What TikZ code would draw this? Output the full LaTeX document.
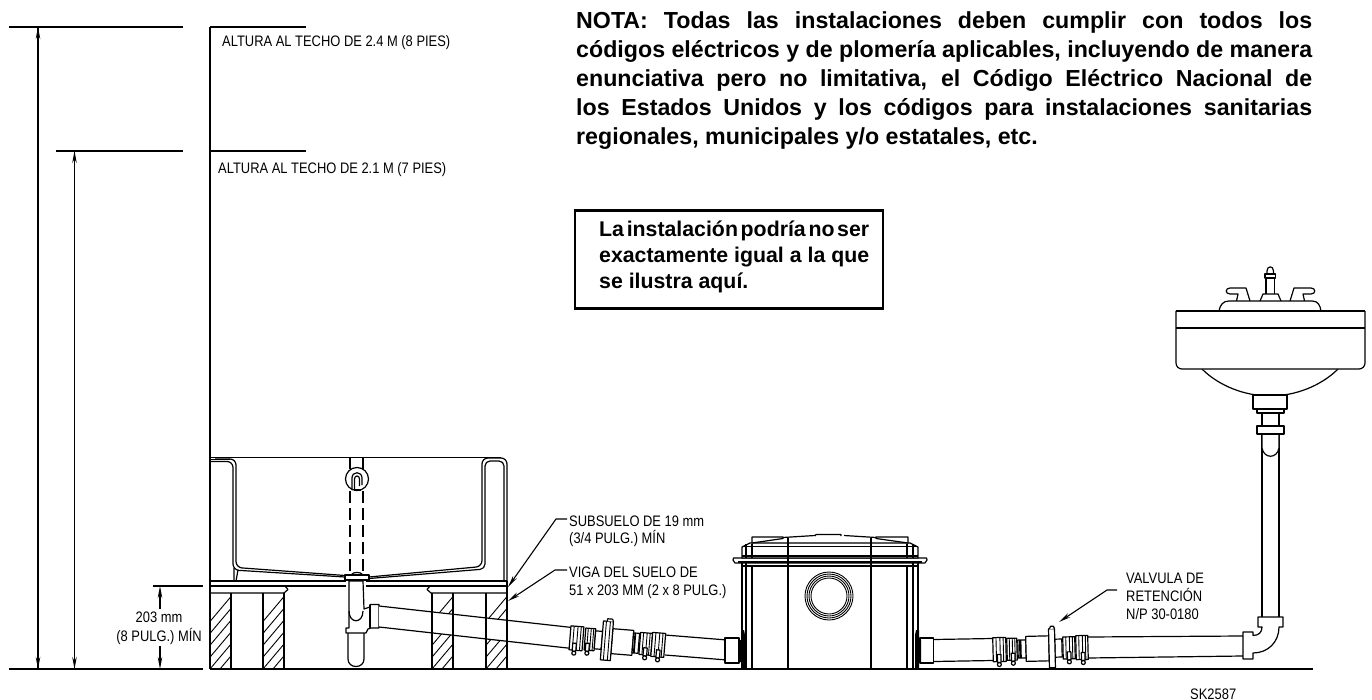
\documentclass[tikz,border=0pt]{standalone}
\usepackage{fontspec}
\setmainfont{Liberation Sans}
\newfontfamily\labfont[FakeStretch=0.85]{Liberation Sans}
\usetikzlibrary{arrows.meta}
\tikzset{
  ln/.style={draw=black,line width=1.2pt,line join=round},
  lnw/.style={ln,fill=white},
  hv/.style={draw=black,line width=1.6pt},
  tn/.style={draw=black,line width=0.9pt},
  dimarrow/.style={draw=black,line width=1.1pt,-{Stealth[length=12pt,width=4.5pt]}},
  label/.style={anchor=base west,inner sep=0pt,font=\labfont\fontsize{15.2}{18}\selectfont},
  notetext/.style={anchor=base west,inner sep=0pt,font=\bfseries\fontsize{23.2}{29}\selectfont},
  warntext/.style={anchor=base west,inner sep=0pt,font=\bfseries\fontsize{21.3}{26}\selectfont},
}
\newcommand{\hatchbox}[4]{%
  \begin{scope}
    \clip (#1,#3) rectangle (#2,#4);
    \foreach \k in {0,10,...,120}{\draw[tn] (#1-40+\k,#4) -- (#1-40+\k+64,#4-76);}
  \end{scope}
  \draw[ln] (#1,#3) -- (#1,#4) (#2,#3) -- (#2,#4);}
% a hose clamp in the local frame of a fitting: s1, s2, half height, screw position
\newcommand{\clampbox}[4]{%
  \draw[lnw] (#1,-#3) rectangle (#2,#3);
  \draw[tn] ({#1+0.25*(#2-#1)},-#3) -- ({#1+0.25*(#2-#1)},#3)
            ({#1+0.55*(#2-#1)},-#3) -- ({#1+0.55*(#2-#1)},#3)
            ({#1+0.8*(#2-#1)},-#3) -- ({#1+0.8*(#2-#1)},#3);
  \draw[lnw] (#4-1.8,#3-7) rectangle (#4+1.8,#3+1);
  \draw[ln,fill=white] (#4,#3+3) circle[radius=2];}
\newcommand{\pbar}[3]{\draw[lnw] (#1,-#3) rectangle (#2,#3);}
\newcommand{\darkbar}[3]{\draw[lnw] (#1,-#3) rectangle (#2,#3);
  \fill[black] ({#1+0.15*(#2-#1)},-#3) rectangle ({#1+0.45*(#2-#1)},#3);}
\newcommand{\jline}[1]{\hbox to 736pt{\spaceskip=0.28em plus 1fil minus 0.22em\relax #1}}
\newcommand{\kline}[1]{\hbox to 270pt{\spaceskip=0.28em plus 1fil minus 0.22em\relax #1}}
\begin{document}
\begin{tikzpicture}[x=1pt,y=-1pt]
\useasboundingbox (0,0) rectangle (1372,700);
\fill[white] (0,0) rectangle (1372,700);

% ---- coordinates of dimension lines
\coordinate (h8a) at (38,27); \coordinate (h8b) at (38,669);
\coordinate (h7a) at (74.5,151); \coordinate (h7b) at (74.5,669);
\coordinate (m1a) at (160,609); \coordinate (m1b) at (160,586);
\coordinate (m2a) at (160,646); \coordinate (m2b) at (160,669);

% ---- ceiling and floor lines
\draw[ln] (9,27) -- (183,27);
\draw[ln] (210,27) -- (306,27);
\draw[ln] (56,151) -- (183,151);
\draw[ln] (210,151) -- (306,151);
\draw[ln] (210,27) -- (210,669);
\draw[ln] (153,586) -- (203,586);
\draw[hv] (9,669) -- (203,669);
\draw[dimarrow] (h8a) -- (h8b); \draw[dimarrow] (h8b) -- (h8a);
\draw[dimarrow] (h7a) -- (h7b); \draw[dimarrow] (h7b) -- (h7a);
\draw[dimarrow] (m1a) -- (m1b);
\draw[dimarrow] (m2a) -- (m2b);

% ---- joists
\hatchbox{210}{231}{593}{669}
\hatchbox{263}{284}{593}{669}
\hatchbox{432}{453}{593}{669}
\hatchbox{486}{507}{593}{669}

% ---- subfloor
\draw[ln] (210,593) -- (284,593) -- (288,589.5) -- (285,586);
\draw[ln] (430,586) -- (427,589.5) -- (431,593) -- (507,593);
\draw[ln] (507,581) -- (507,593);
\draw[hv] (210,581) -- (346,581) (366,581) -- (507,581);
\draw[ln] (210,586) -- (346,586) (366,586) -- (507,586);

% ---- tub
\draw[ln] (210,457.5) -- (501,457.5);
\draw[ln] (210,459.5) -- (230,459.5);
\draw[ln,rounded corners=6] (210,461.5) -- (233,461.5) -- (233,570) -- (345,577);
\draw[ln,rounded corners=6] (215,459) -- (236,459) -- (236,567.5) -- (345,575.5);
\draw[ln] (234,568) -- (234,581) (238,570) -- (236,581);
\draw[ln,rounded corners=6] (369,577) -- (482,566.5) -- (482,458) -- (507,458) -- (507,581);
\draw[ln,rounded corners=5] (369,578.5) -- (485,569) -- (485,461) -- (504,461) -- (504,581);
% overflow
\draw[ln] (350,458) -- (350,469) (363,458) -- (363,469);
\draw[ln,dash pattern=on 12pt off 5pt] (350,491) -- (350,575) (363,491) -- (363,575);
\draw[ln] (357,479) circle[radius=11.5];
\draw[ln] (352,490) -- (352,478) .. controls (352,471) and (362,471) .. (362,478) -- (362,485);
\draw[ln] (354.5,490) -- (354.5,479) .. controls (354.5,475) and (359.5,475) .. (359.5,479) -- (359.5,486);
\draw[ln] (354,490) -- (361,490);

% ---- drain and wye fitting
\draw[lnw] (348,633) -- (348,659) .. controls (348,669) and (364,669) .. (364,659) -- (364,633);
\draw[lnw] (349,581) -- (349,628) -- (346,628) -- (346,633) -- (366,633) -- (368,629) -- (371,628)
   -- (379,628) -- (379,604.5) -- (370,604.5) -- (370,607) -- (364,609) -- (363,581) -- cycle;
\draw[ln] (349,611) .. controls (349,624) and (363,624) .. (363,611);
\draw[ln] (370,604.5) -- (370,628);
\draw[lnw] (345,575) rectangle (369,580);
\draw[ln] (351,575) .. controls (353,571.5) and (361,571.5) .. (363,575);

% ---- left drain pipe
\path[fill=white] (379,606) -- (572,627.5) -- (572,648.5) -- (379,627) -- cycle;
\draw[ln] (379,606) -- (572,627.5) (379,627) -- (572,648.5);
\draw[ln] (432,593) -- (432,669) (453,593) -- (453,669) (486,593) -- (486,669) (507,593) -- (507,669);
\path[fill=white] (665,635) -- (727,640) -- (727,660) -- (665,655) -- cycle;
\draw[ln] (665,635) -- (727,640) (665,655) -- (727,660);

% ---- left check valve
\begin{scope}[shift={(570,637.8)},rotate=-4.6]
  \clampbox{0}{13}{12}{5}
  \clampbox{15}{25}{11}{18}
  \pbar{25}{32}{9}
  \pbar{42}{63}{12.5}
  \darkbar{63}{69}{10}
  \pbar{32}{42}{19.5}
  \draw[lnw] (36,-19.5) -- (36,-22) -- (41,-22) -- (42,-19.5);
  \draw[tn] (35,-19.5) -- (35,19.5) (39,-19.5) -- (39,19.5);
  \clampbox{70}{82}{11}{76}
  \clampbox{82}{95}{12}{89}
\end{scope}

% ---- pipe ends at the tank
\draw[lnw] (725,638) rectangle (739,663);
\draw[ln] (934,639.5) -- (993,638.5) (934,661.5) -- (993,660.5);
\draw[lnw] (920,638) rectangle (933.5,663);

% ---- tank
\draw[lnw] (742,566) rectangle (918,669);
\foreach \xx in {746,752,907,913}{\draw[ln] (\xx,566) -- (\xx,669);}
\draw[hv] (788,566) -- (788,669) (871,566) -- (871,669);
\fill[black] (741,630) -- (744,630) -- (745,635) -- (745,669) -- (741,669) -- cycle;
\fill[black] (919,630) -- (916,630) -- (915,635) -- (915,669) -- (919,669) -- cycle;
\fill[black] (739,640) rectangle (742,662) (918,640) rectangle (921,662);
\draw[lnw] (733.5,558) -- (926.5,558) -- (927,560) -- (925,563) -- (735,563) -- (733,560) -- cycle;
\draw[hv] (738,562) -- (922,562);
\draw[ln] (742,563) -- (742,566) (918,563) -- (918,566) (746,563) -- (746,566) (913,563) -- (913,566);
\draw[lnw] (742,558) -- (742,547) -- (750,543) -- (910,543) -- (918,547) -- (918,558) -- cycle;
\draw[ln] (742,556) -- (918,556) (742,546.5) -- (918,546.5);
\foreach \xx in {746,752,907,913}{\draw[ln] (\xx,544) -- (\xx,558);}
\draw[hv] (788,538) -- (788,566) (871,538) -- (871,566);
\draw[lnw] (752,543) -- (752,537) -- (783,537) -- (783,538.5) -- cycle;
\draw[lnw] (908,543) -- (908,537) -- (876,537) -- (876,538.5) -- cycle;
\draw[ln] (783,537.5) -- (815,535.5) (844,535.5) -- (876,537.5);
\draw[lnw] (815,536) -- (816,534.5) -- (841,534.5) -- (841,536);
\foreach \rr in {24,22,20,18}{\draw[tn] (829,596) circle[radius=\rr];}

% ---- right side pipe and valve
\begin{scope}[shift={(993,649.7)},rotate=1.4]
  \clampbox{0}{13}{12}{6}
  \clampbox{14}{24}{11}{20}
  \darkbar{25}{33}{9}
  \pbar{33}{56}{12.5}
  \pbar{62}{69}{9}
  \pbar{56}{62}{19.5}
  \draw[lnw] (57,-19.5) -- (58,-22) -- (61,-22) -- (62,-19.5);
  \clampbox{70}{82}{11}{76}
  \clampbox{83}{95}{12}{90}
\end{scope}

% ---- floor
\draw[hv] (210,669) -- (1313,669);

% ---- long horizontal run, elbow and riser
\draw[ln] (1088,637) -- (1243,636) (1088,658) -- (1243,656);
\draw[lnw] (1253,635.5) .. controls (1259,635.5) and (1262,632) .. (1262,627) -- (1258,627) -- (1258,617) -- (1283,617) -- (1283,627) -- (1279,627)
   .. controls (1279,642) and (1268,653) .. (1253,653) -- (1253,659) -- (1243,659) -- (1243,632) -- (1253,632) -- cycle;
\draw[ln] (1262,617) -- (1262,434) (1279,617) -- (1279,434);

% ---- wash basin
\draw[lnw] (1202,369) .. controls (1219,386) and (1245,396) .. (1270,396) .. controls (1295,396) and (1321,386) .. (1338,369);
\draw[lnw] (1253,395) rectangle (1287,409);
\draw[lnw] (1257,409) rectangle (1284,413);
\draw[lnw] (1262,413) rectangle (1279,426);
\draw[lnw] (1262,434) -- (1262,448) .. controls (1264,459) and (1277,459) .. (1279,448) -- (1279,434);
\draw[lnw] (1257,426) rectangle (1284,434);
\draw[lnw,rounded corners=6] (1176,311) -- (1176,369) -- (1365,369) -- (1365,311);
\draw[ln] (1176,311) -- (1365,311) (1176,328) -- (1365,328);
\draw[ln] (1219,311) .. controls (1220,305) and (1223,301) .. (1229,301) -- (1312,301) .. controls (1318,301) and (1320,305) .. (1321,311);
\draw[ln] (1260,301) -- (1263,294) -- (1278,294) -- (1281,301);
\draw[ln] (1266,294) -- (1266,278) (1274.5,294) -- (1274.5,278);
\draw[ln] (1265,274) rectangle (1275.5,278);
\draw[ln] (1267,274) -- (1267,271) .. controls (1267,265.5) and (1273.5,265.5) .. (1273.5,271) -- (1273.5,274);
\draw[ln] (1250,301) -- (1246,288) -- (1230,288) .. controls (1225,288) and (1225,294) .. (1230,294) -- (1238,294) -- (1236.5,301);
\draw[ln] (1290,301) -- (1294,288) -- (1311,288) .. controls (1316,288) and (1316,294) .. (1311,294) -- (1303,294) -- (1304.5,301);

% ---- labels
\node[label] (lab8) at (222,47) {ALTURA AL TECHO DE 2.4 M (8 PIES)};
\node[label] (lab7) at (218,174) {ALTURA AL TECHO DE 2.1 M (7 PIES)};
\node[label,anchor=base] (labmm) at (159,622) {203 mm};
\node[label,anchor=base east] (labpulg) at (202,641) {(8 PULG.) MÍN};
\node[label] (labsub) at (569,526) {\vtop{\baselineskip=17.5pt\hbox{SUBSUELO DE 19 mm}\hbox{(3/4 PULG.) MÍN}}};
\node[label] (labviga) at (569,577) {\vtop{\baselineskip=18pt\hbox{VIGA DEL SUELO DE}\hbox{51 x 203 MM (2 x 8 PULG.)}}};
\node[label] (labval) at (1126,583) {\vtop{\baselineskip=18pt\hbox{VALVULA DE}\hbox{RETENCIÓN}\hbox{N/P 30-0180}}};
\node[label] (labsk) at (1190,699) {SK2587};

% ---- leaders
\coordinate (subtip) at (508,587); \coordinate (subk) at (556,519); \coordinate (subs) at (567,519);
\coordinate (vigtip) at (508,601); \coordinate (vigk) at (555,570); \coordinate (vigs) at (567,570);
\coordinate (valtip) at (1059,622); \coordinate (valk) at (1107,590); \coordinate (vals) at (1117,590);
\draw[dimarrow] (subs) -- (subk) -- (subtip);
\draw[dimarrow] (vigs) -- (vigk) -- (vigtip);
\draw[dimarrow] (vals) -- (valk) -- (valtip);

% ---- notes
\node[notetext] (note) at (576,29) {\vtop{\baselineskip=28.8pt
  \jline{NOTA: Todas las instalaciones deben cumplir con todos los}
  \jline{códigos eléctricos y de plomería aplicables, incluyendo de manera}
  \jline{enunciativa pero no limitativa, el Código Eléctrico Nacional de}
  \jline{los Estados Unidos y los códigos para instalaciones sanitarias}
  \hbox{regionales, municipales y/o estatales, etc.}}};
\draw[draw=black,line width=2.2pt] (575,210.5) rectangle (883,308.5);
\node[warntext] (warn) at (599,237) {\vtop{\baselineskip=26pt
  \kline{La instalación podría no ser}
  \kline{exactamente igual a la que}
  \hbox{se ilustra aquí.}}};
\end{tikzpicture}
\end{document}
